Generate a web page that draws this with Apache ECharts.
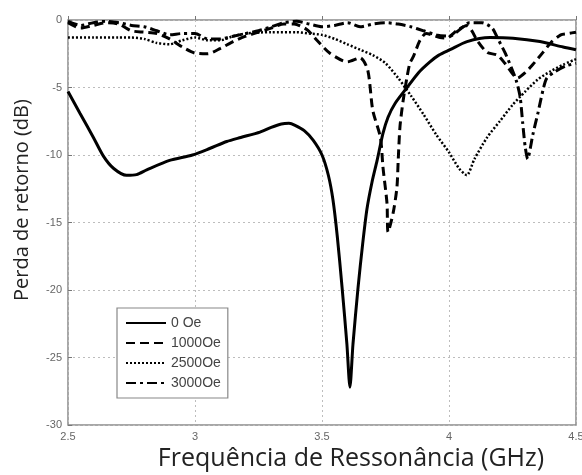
<!DOCTYPE html>
<html><head><meta charset="utf-8">
<script src="https://cdn.jsdelivr.net/npm/echarts@6/dist/echarts.min.js"></script>
<style>html,body{margin:0;padding:0;background:#fff}#c{width:582px;height:475px}</style>
</head><body><div id="c"></div>
<script>
const seriesNames = ["0 Oe", "1000Oe", "2500Oe", "3000Oe"];
const xTicks = ["2.5", "3", "3.5", "4", "4.5"];
const yTicks = ["-30", "-25", "-20", "-15", "-10", "-5", "0"];
const xTitle = "Frequência de Ressonância (GHz)";
const yTitle = "Perda de retorno (dB)";

const s0Freq = [2.5,2.547,2.6,2.64,2.68,2.73,2.77,2.81,2.9,2.99,3.06,3.125,3.18,3.256,3.3,3.34,3.37,3.394,3.43,3.465,3.5,3.525,3.543,3.56,3.579,3.598,3.61,3.622,3.642,3.66,3.677,3.697,3.717,3.74,3.76,3.787,3.835,3.88,3.925,3.96,4.004,4.071,4.161,4.252,4.358,4.449,4.5];
const s0Loss = [-5.3,-6.9,-8.7,-10.1,-11.0,-11.5,-11.45,-11.1,-10.4,-10.0,-9.5,-9.0,-8.7,-8.3,-7.95,-7.7,-7.65,-7.8,-8.2,-8.9,-10.0,-11.5,-13.3,-16.0,-19.8,-24.0,-27.2,-24.0,-19.8,-16.6,-14.0,-12.0,-10.4,-8.4,-7.2,-6.2,-5.0,-3.9,-3.1,-2.6,-2.2,-1.6,-1.3,-1.35,-1.6,-2.0,-2.2];

const s1Freq = [2.5,2.55,2.6,2.65,2.7,2.75,2.8,2.85,2.9,2.95,3.0,3.05,3.1,3.15,3.2,3.25,3.3,3.35,3.39,3.44,3.48,3.53,3.6,3.65,3.68,3.70,3.73,3.74,3.756,3.76,3.78,3.795,3.80,3.807,3.82,3.835,3.846,3.86,3.886,3.91,3.965,3.99,4.03,4.07,4.09,4.11,4.15,4.19,4.22,4.27,4.30,4.33,4.37,4.40,4.44,4.47,4.5];
const s1Loss = [-0.2,-0.6,-0.4,-0.2,-0.3,-0.8,-0.9,-1.0,-1.4,-2.0,-2.45,-2.5,-2.1,-1.6,-1.2,-0.9,-0.6,-0.3,-0.3,-0.7,-1.5,-2.45,-3.1,-2.8,-3.7,-6.7,-8.7,-10.9,-13.6,-15.7,-14.3,-12.4,-10.4,-7.9,-5.9,-4.2,-3.2,-2.7,-1.5,-1.0,-1.3,-1.35,-0.8,-0.4,-0.8,-1.5,-2.4,-2.6,-3.2,-4.3,-3.9,-3.3,-2.4,-1.7,-1.1,-1.0,-0.9];

const s2Freq = [2.5,2.6,2.7,2.75,2.8,2.85,2.9,2.95,3.0,3.05,3.1,3.15,3.2,3.3,3.4,3.45,3.5,3.55,3.6,3.65,3.7,3.75,3.8,3.85,3.9,3.95,4.0,4.04,4.07,4.1,4.15,4.2,4.25,4.3,4.35,4.4,4.45,4.5];
const s2Loss = [-1.3,-1.3,-1.3,-1.3,-1.4,-1.7,-1.8,-1.5,-1.3,-1.5,-1.5,-1.2,-1.0,-0.9,-0.9,-1.0,-1.1,-1.4,-1.8,-2.2,-2.6,-3.2,-4.3,-5.6,-7.0,-8.5,-9.8,-11.0,-11.5,-10.3,-8.7,-7.5,-6.3,-5.3,-4.4,-3.8,-3.3,-2.9];

const s3Freq = [2.5,2.55,2.6,2.65,2.7,2.75,2.8,2.85,2.9,2.95,3.0,3.05,3.1,3.15,3.2,3.25,3.3,3.35,3.4,3.45,3.5,3.55,3.6,3.65,3.7,3.75,3.8,3.85,3.9,3.95,4.0,4.05,4.08,4.13,4.17,4.19,4.22,4.245,4.265,4.28,4.29,4.30,4.31,4.32,4.33,4.35,4.37,4.385,4.42,4.46,4.5];
const s3Loss = [-0.1,-0.4,-0.2,-0.1,-0.2,-0.4,-0.5,-0.8,-1.1,-1.0,-1.0,-1.4,-1.4,-1.2,-1.0,-0.8,-0.5,-0.2,-0.1,-0.3,-0.5,-0.4,-0.2,-0.5,-0.3,-0.2,-0.3,-0.5,-0.8,-1.1,-1.2,-0.6,-0.2,-0.2,-0.6,-1.3,-2.4,-3.5,-4.5,-5.7,-7.6,-9.4,-10.3,-9.5,-8.5,-6.9,-5.2,-4.3,-3.8,-3.4,-3.2];

const freqs = [s0Freq, s1Freq, s2Freq, s3Freq];
const losses = [s0Loss, s1Loss, s2Loss, s3Loss];
const dashTypes = ['solid', [9, 5], [2, 2], [10, 4, 3, 4]];
const widths = [3, 3, 2.5, 3];

const chart = echarts.init(document.getElementById('c'), null, {renderer: 'canvas'});
const font = 'Arial, "Liberation Sans", sans-serif';
const series = seriesNames.map((n, i) => ({
  name: n,
  type: 'line',
  data: freqs[i].map((f, k) => [f, losses[i][k]]),
  showSymbol: false,
  symbol: 'none',
  smooth: 0.25,
  lineStyle: {color: '#000', width: widths[i], type: dashTypes[i]},
  itemStyle: {color: '#000'},
  z: 3 + (3 - i)
}));

chart.setOption({
  animation: false,
  backgroundColor: '#fff',
  grid: {left: 68, right: 6, top: 20, bottom: 50, show: true, borderColor: '#8a8a8a', borderWidth: 1.5,
    backgroundColor: 'transparent', containLabel: false, outerBoundsMode: 'none'},
  xAxis: {
    type: 'value', min: 2.5, max: 4.5, interval: 0.5,
    axisLine: {show: false},
    axisTick: {show: true, inside: true, length: 4, lineStyle: {color: '#777'}},
    axisLabel: {color: '#666', fontSize: 11, fontFamily: font, margin: 6,
      formatter: v => xTicks[Math.round((v - 2.5) / 0.5)] || ''},
    splitLine: {show: true, lineStyle: {color: '#bdbdbd', type: [2, 3], width: 1}}
  },
  yAxis: {
    type: 'value', min: -30, max: 0, interval: 5,
    axisLine: {show: false},
    axisTick: {show: true, inside: true, length: 4, lineStyle: {color: '#777'}},
    axisLabel: {color: '#666', fontSize: 11, fontFamily: font, margin: 6,
      formatter: v => yTicks[Math.round((v + 30) / 5)] || ''},
    splitLine: {show: true, lineStyle: {color: '#bdbdbd', type: [2, 3], width: 1}}
  },
  legend: {
    orient: 'vertical', left: 117, top: 308, itemGap: 6,
    itemWidth: 40, itemHeight: 14,
    padding: [8, 7, 8, 8],
    backgroundColor: '#fff', borderColor: '#888', borderWidth: 1.2,
    itemStyle: {opacity: 0},
    textStyle: {color: '#444', fontSize: 14, fontFamily: font},
    data: seriesNames
  },
  graphic: [
    {type: 'text', x: 22, y: 200, rotation: Math.PI / 2,
      style: {text: yTitle, font: '20px "Open Sans", sans-serif', fill: '#222', textAlign: 'center', textVerticalAlign: 'middle'}},
    {type: 'text', x: 351, y: 459,
      style: {text: xTitle, font: '25px "Open Sans", sans-serif', fill: '#222', textAlign: 'center', textVerticalAlign: 'middle'}}
  ],
  series: series
});
</script>
</body></html>
